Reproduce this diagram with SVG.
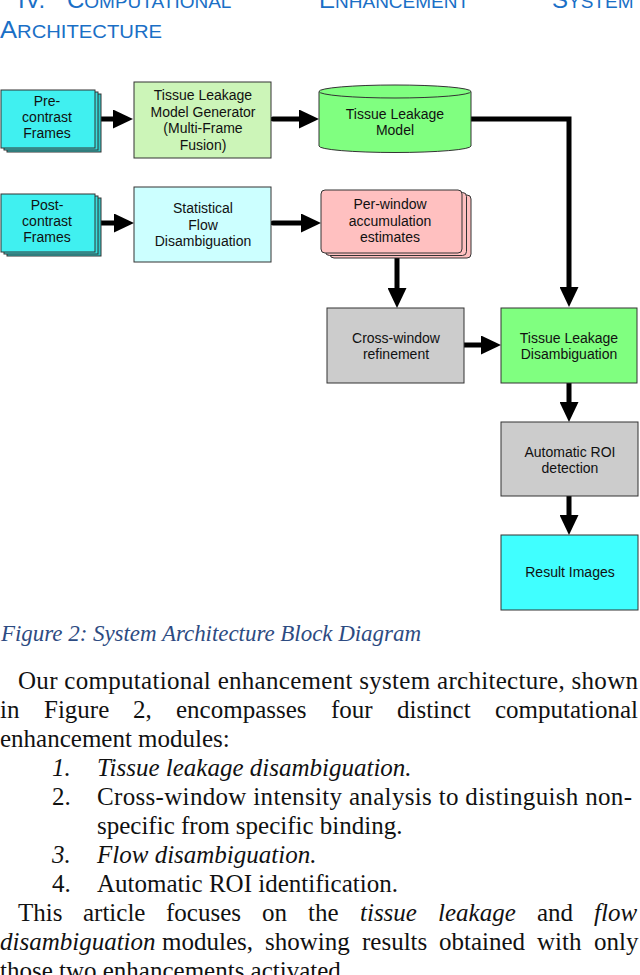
<svg xmlns="http://www.w3.org/2000/svg" width="640" height="975" viewBox="0 0 640 975">
<style>
.nd{stroke:#333;stroke-width:1}
.lb{font-family:"Liberation Sans",Arial,sans-serif;font-size:14px;fill:#111;text-anchor:middle}
.hd{font-family:"Liberation Sans",Arial,sans-serif;fill:#1a6fc6;font-size:24px}
.sc{font-size:19px}
.bd{font-family:"Liberation Serif","Times New Roman",serif;font-size:25px;fill:#111}
.it{font-style:italic}
.cap{font-family:"Liberation Serif","Times New Roman",serif;font-style:italic;font-size:23px;fill:#2d4b82}
.cn{fill:none;stroke:#000;stroke-width:5;stroke-linecap:round;marker-end:url(#ah)}
</style>
<defs>
<marker id="ah" markerUnits="userSpaceOnUse" markerWidth="20" markerHeight="19" refX="10" refY="9.5" orient="auto">
<path d="M0,0 L20,9.5 L0,19 Z" fill="#000"/>
</marker>
</defs>
<rect width="640" height="975" fill="#fff"/>

<g id="heading">
<text class="hd" y="8"><tspan x="18">IV.</tspan><tspan x="67">C</tspan><tspan class="sc">OMPUTATIONAL</tspan><tspan x="319">E</tspan><tspan class="sc">NHANCEMENT</tspan><tspan x="552">S</tspan><tspan class="sc">YSTEM</tspan></text>
<text class="hd" x="0" y="38" textLength="162" lengthAdjust="spacingAndGlyphs">A<tspan class="sc">RCHITECTURE</tspan></text>
</g>

<g id="connectors">
<path class="cn" d="M97,119 H123"/>
<path class="cn" d="M273,119 H309"/>
<path class="cn" d="M97,223 H124"/>
<path class="cn" d="M273,223 H311"/>
<path class="cn" d="M471,119 H569 V297"/>
<path class="cn" d="M397,258 V298"/>
<path class="cn" d="M464,345 H491"/>
<path class="cn" d="M569,383 V412"/>
<path class="cn" d="M569,496 V525"/>
</g>

<g id="pre-contrast">
<rect class="nd" x="7" y="94" width="94" height="58" fill="#2ec8c8"/>
<rect class="nd" x="4" y="92" width="94" height="58" fill="#38dede"/>
<rect class="nd" x="1" y="90" width="94" height="58" fill="#40f0f0"/>
<text class="lb" x="47" y="106">Pre-</text>
<text class="lb" x="47" y="122">contrast</text>
<text class="lb" x="47" y="138">Frames</text>
</g>

<g id="model-generator">
<rect class="nd" x="134" y="82" width="137" height="76" fill="#ccf5b8"/>
<text class="lb" x="203" y="100">Tissue Leakage</text>
<text class="lb" x="203" y="117">Model Generator</text>
<text class="lb" x="203" y="133">(Multi-Frame</text>
<text class="lb" x="203" y="150">Fusion)</text>
</g>

<g id="tissue-leakage-model">
<path class="nd" d="M319,91.5 V146 A76,6.5 0 0 0 471,146 V91.5 Z" fill="#80ff80"/>
<ellipse class="nd" cx="395" cy="91.5" rx="76" ry="6.5" fill="#80ff80"/>
<text class="lb" x="395" y="119">Tissue Leakage</text>
<text class="lb" x="395" y="135">Model</text>
</g>

<g id="post-contrast">
<rect class="nd" x="7" y="198" width="94" height="58" fill="#2ec8c8"/>
<rect class="nd" x="4" y="196" width="94" height="58" fill="#38dede"/>
<rect class="nd" x="1" y="194" width="94" height="58" fill="#40f0f0"/>
<text class="lb" x="47" y="210">Post-</text>
<text class="lb" x="47" y="226">contrast</text>
<text class="lb" x="47" y="242">Frames</text>
</g>

<g id="flow-disambiguation">
<rect class="nd" x="134" y="187" width="137" height="75" fill="#ccffff"/>
<text class="lb" x="203" y="213">Statistical</text>
<text class="lb" x="203" y="230">Flow</text>
<text class="lb" x="203" y="246">Disambiguation</text>
</g>

<g id="per-window">
<rect class="nd" x="330" y="195" width="141" height="63" rx="4" fill="#ffc0c0"/>
<rect class="nd" x="325.5" y="192.5" width="141" height="63" rx="4" fill="#ffc0c0"/>
<rect class="nd" x="321" y="190" width="141" height="63" rx="4" fill="#ffc0c0"/>
<text class="lb" x="390" y="209">Per-window</text>
<text class="lb" x="390" y="226">accumulation</text>
<text class="lb" x="390" y="242">estimates</text>
</g>

<g id="cross-window">
<rect class="nd" x="327" y="308" width="137" height="75" fill="#cccccc"/>
<text class="lb" x="396" y="343">Cross-window</text>
<text class="lb" x="396" y="359">refinement</text>
</g>

<g id="leakage-disambiguation">
<rect class="nd" x="501" y="308" width="136" height="75" fill="#80ff80"/>
<text class="lb" x="569" y="343">Tissue Leakage</text>
<text class="lb" x="569" y="359">Disambiguation</text>
</g>

<g id="roi-detection">
<rect class="nd" x="501" y="422" width="137" height="74" fill="#cccccc"/>
<text class="lb" x="570" y="457">Automatic ROI</text>
<text class="lb" x="570" y="473">detection</text>
</g>

<g id="result-images">
<rect class="nd" x="501" y="535" width="137" height="75" fill="#40ffff"/>
<text class="lb" x="570" y="577">Result Images</text>
</g>

<g id="caption">
<text class="cap" x="1" y="641" textLength="420" lengthAdjust="spacing">Figure 2: System Architecture Block Diagram</text>
</g>

<g id="body">
<text class="bd" x="18" y="689" textLength="620" lengthAdjust="spacing">Our computational enhancement system architecture, shown</text>
<text class="bd" y="718"><tspan x="0">in</tspan><tspan x="44">Figure</tspan><tspan x="133">2,</tspan><tspan x="176">encompasses</tspan><tspan x="331">four</tspan><tspan x="397">distinct</tspan><tspan x="495">computational</tspan></text>
<text class="bd" x="0" y="747">enhancement modules:</text>
<text class="bd it" x="52" y="776">1.</text>
<text class="bd it" x="97" y="776">Tissue leakage disambiguation.</text>
<text class="bd" x="52" y="805">2.</text>
<text class="bd" x="97" y="805" textLength="535" lengthAdjust="spacing">Cross-window intensity analysis to distinguish non-</text>
<text class="bd" x="97" y="834">specific from specific binding.</text>
<text class="bd it" x="52" y="863">3.</text>
<text class="bd it" x="97" y="863">Flow disambiguation.</text>
<text class="bd" x="52" y="892">4.</text>
<text class="bd" x="97" y="892" textLength="301" lengthAdjust="spacing">Automatic ROI identification.</text>
<text class="bd" y="921"><tspan x="18">This</tspan><tspan x="83">article</tspan><tspan x="166">focuses</tspan><tspan x="262">on</tspan><tspan x="308">the</tspan><tspan x="360" class="it">tissue</tspan><tspan x="438" class="it">leakage</tspan><tspan x="537">and</tspan><tspan x="594" class="it">flow</tspan></text>
<text class="bd" y="950"><tspan x="0" class="it">disambiguation</tspan><tspan x="162">modules,</tspan><tspan x="265">showing</tspan><tspan x="362">results</tspan><tspan x="439">obtained</tspan><tspan x="537">with</tspan><tspan x="594">only</tspan></text>
<text class="bd" x="0" y="979">those two enhancements activated.</text>
</g>
</svg>
